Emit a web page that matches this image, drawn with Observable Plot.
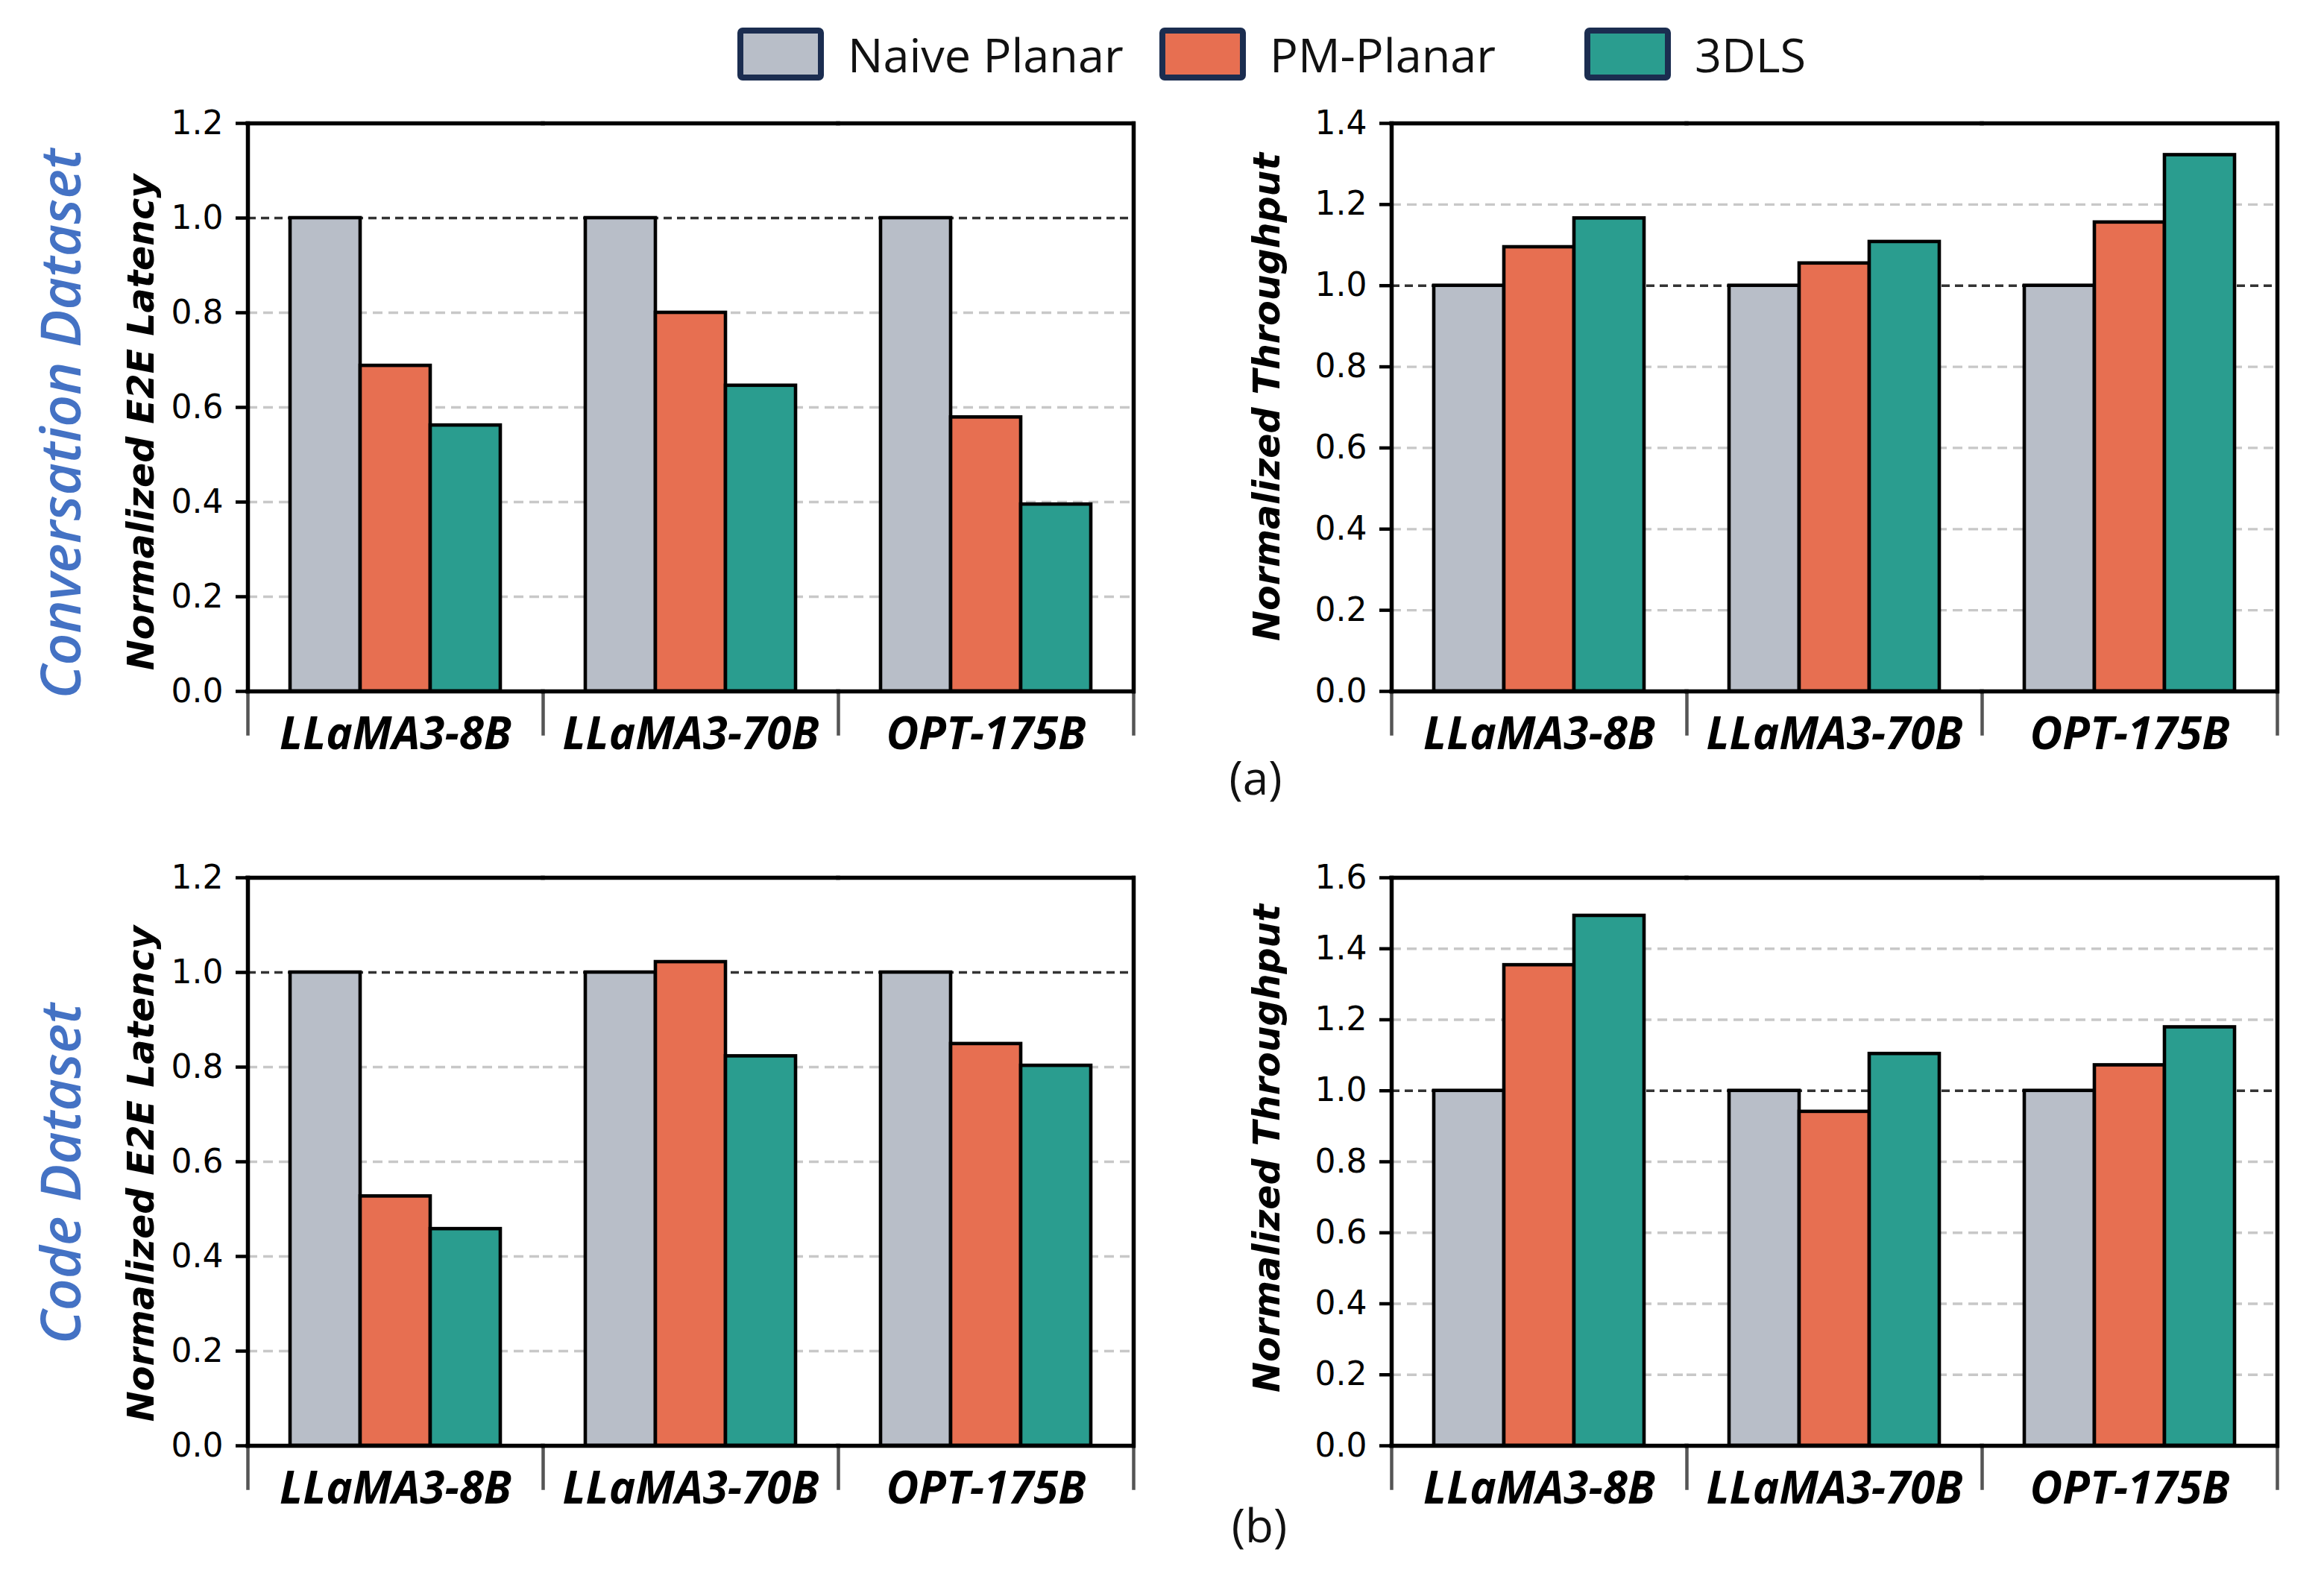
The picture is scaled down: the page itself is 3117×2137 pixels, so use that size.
<!DOCTYPE html>
<html>
<head>
<meta charset="utf-8">
<script src="https://cdn.jsdelivr.net/npm/d3@7"></script>
<script src="https://cdn.jsdelivr.net/npm/@observablehq/plot@0.6"></script>
<style>
  body { margin: 0; background: #fff; }
  #fig { position: relative; width: 3117px; height: 2137px; background: #fff; overflow: hidden; }
  .panel { position: absolute; }
  .legend-item { position: absolute; top: 37px; display: flex; align-items: center;
    font-family: "Open Sans", sans-serif; font-size: 63px; color: #111; line-height: 1; white-space: nowrap; }
  .swatch { width: 100px; height: 55px; border: 8px solid #1b2d50; border-radius: 7px; margin-right: 32px; }
  .sub { position: absolute; width: 200px; text-align: center; font-family: "Open Sans", sans-serif;
    font-size: 62px; line-height: 1; color: #111; }
</style>
</head>
<body>
<div id="fig"></div>
<script>
// Models on the x axis, systems compared within each model group
const models = ["LLaMA3-8B", "LLaMA3-70B", "OPT-175B"];
const methods = ["Naive Planar", "PM-Planar", "3DLS"];
const colors = ["#b8bec8", "#e76f51", "#2a9d8f"];

// Normalized values, one row per method (Naive Planar, PM-Planar, 3DLS), one column per model
const convLatency = [
  [1.0, 1.0, 1.0],
  [0.688, 0.800, 0.579],
  [0.562, 0.646, 0.395]
];
const convThroughput = [
  [1.0, 1.0, 1.0],
  [1.095, 1.055, 1.156],
  [1.166, 1.108, 1.322]
];
const codeLatency = [
  [1.0, 1.0, 1.0],
  [0.527, 1.022, 0.849],
  [0.458, 0.823, 0.803]
];
const codeThroughput = [
  [1.0, 1.0, 1.0],
  [1.354, 0.941, 1.072],
  [1.493, 1.104, 1.179]
];

// Tick values for each y axis
const latencyTicks = [0, 0.2, 0.4, 0.6, 0.8, 1.0, 1.2];
const convThroughputTicks = [0, 0.2, 0.4, 0.6, 0.8, 1.0, 1.2, 1.4];
const codeThroughputTicks = [0, 0.2, 0.4, 0.6, 0.8, 1.0, 1.2, 1.4, 1.6];

const fig = document.getElementById("fig");

// Legend across the top
const legendLefts = [989, 1555, 2125];
methods.forEach((m, i) => {
  const item = document.createElement("div");
  item.className = "legend-item";
  item.style.left = legendLefts[i] + "px";
  const sw = document.createElement("div");
  sw.className = "swatch";
  sw.style.background = colors[i];
  const label = document.createElement("span");
  label.textContent = m;
  item.append(sw, label);
  fig.append(item);
});

const frameW = 1188, frameH = 762;
const mTop = 45, mBottom = 110, mRight = 24;

function panel({values, ticks, yTitle, titleDx, titleDy, rowTitle, rowDy, left, top, marginLeft}) {
  const rows = [];
  methods.forEach((m, j) => models.forEach((g, i) => rows.push({model: g, method: m, value: values[j][i]})));
  const yMax = ticks[ticks.length - 1];
  const first = [models[0]], last = [models[models.length - 1]];
  const marks = [
    Plot.ruleY(ticks.filter(t => t !== 1), {stroke: "#c8c8c8", strokeWidth: 3.3, strokeDasharray: "13,8"}),
    Plot.ruleY([1], {stroke: "#333", strokeWidth: 3.5, strokeDasharray: "11,7"}),
    Plot.barY(rows, {fx: "model", x: "method", y: "value", fill: "method", stroke: "#000", strokeWidth: 4.6}),
    // group separators below the axis
    Plot.frame({anchor: "left", insetTop: frameH, insetBottom: -57, stroke: "#555", strokeWidth: 4.5}),
    Plot.frame({anchor: "right", fx: last, insetTop: frameH, insetBottom: -57, stroke: "#555", strokeWidth: 4.5}),
    // axes box
    Plot.ruleY([0, yMax], {stroke: "#000", strokeWidth: 5.5, strokeLinecap: "square"}),
    Plot.frame({anchor: "left", fx: first, stroke: "#000", strokeWidth: 5.5, strokeLinecap: "square"}),
    Plot.frame({anchor: "right", fx: last, stroke: "#000", strokeWidth: 5.5, strokeLinecap: "square"}),
    Plot.axisY({ticks, tickSize: 16, tickPadding: 17, strokeWidth: 4.5, tickFormat: d3.format(".1f"),
      fontSize: 44, fontFamily: "DejaVu Sans", label: null}),
    Plot.axisFx({anchor: "bottom", tickSize: 0, tickPadding: 35, fontSize: 60, fontFamily: "Open Sans",
      fontWeight: 700, fontStyle: "italic", label: null}),
    Plot.text([yTitle], {fx: first, frameAnchor: "left", textAnchor: "middle", lineAnchor: "middle",
      dx: titleDx, dy: titleDy, rotate: -90,
      fontSize: 49, fontFamily: "DejaVu Sans", fontWeight: "bold", fontStyle: "oblique", fill: "#000"})
  ];
  if (rowTitle) {
    marks.push(Plot.text([rowTitle], {fx: first, frameAnchor: "left", textAnchor: "middle", lineAnchor: "middle",
      dx: -249, dy: rowDy, rotate: -90,
      fontSize: 75, fontFamily: "Open Sans", fontWeight: 600, fontStyle: "italic", fill: "#4472c4"}));
  }
  const chart = Plot.plot({
    width: marginLeft + frameW + mRight,
    height: mTop + frameH + mBottom,
    marginLeft, marginRight: mRight, marginTop: mTop, marginBottom: mBottom,
    style: {background: "none", overflow: "visible"},
    fx: {domain: models, padding: 0, label: null},
    x: {domain: methods, paddingInner: 0, paddingOuter: 0.587, axis: null},
    y: {domain: [0, yMax], axis: null},
    color: {domain: methods, range: colors},
    marks
  });
  chart.classList.add("panel");
  chart.style.left = left + "px";
  chart.style.top = top + "px";
  chart.style.maxWidth = "none";
  fig.append(chart);
}

panel({values: convLatency, ticks: latencyTicks, yTitle: "Normalized E2E Latency", titleDx: -142, titleDy: 20,
  rowTitle: "Conversation Dataset", rowDy: 22, left: 0, top: 120, marginLeft: 332});
panel({values: convThroughput, ticks: convThroughputTicks, yTitle: "Normalized Throughput", titleDx: -166, titleDy: -14,
  left: 1560, top: 120, marginLeft: 306});
panel({values: codeLatency, ticks: latencyTicks, yTitle: "Normalized E2E Latency", titleDx: -142, titleDy: 16,
  rowTitle: "Code Dataset", rowDy: 16, left: 0, top: 1132, marginLeft: 332});
panel({values: codeThroughput, ticks: codeThroughputTicks, yTitle: "Normalized Throughput", titleDx: -166, titleDy: -18,
  left: 1560, top: 1132, marginLeft: 306});

// Sub-figure captions
[["(a)", 1584, 1011], ["(b)", 1589, 2014]].forEach(([t, x, y]) => {
  const d = document.createElement("div");
  d.className = "sub";
  d.textContent = t;
  d.style.left = x + "px";
  d.style.top = y + "px";
  fig.append(d);
});
</script>
</body>
</html>
